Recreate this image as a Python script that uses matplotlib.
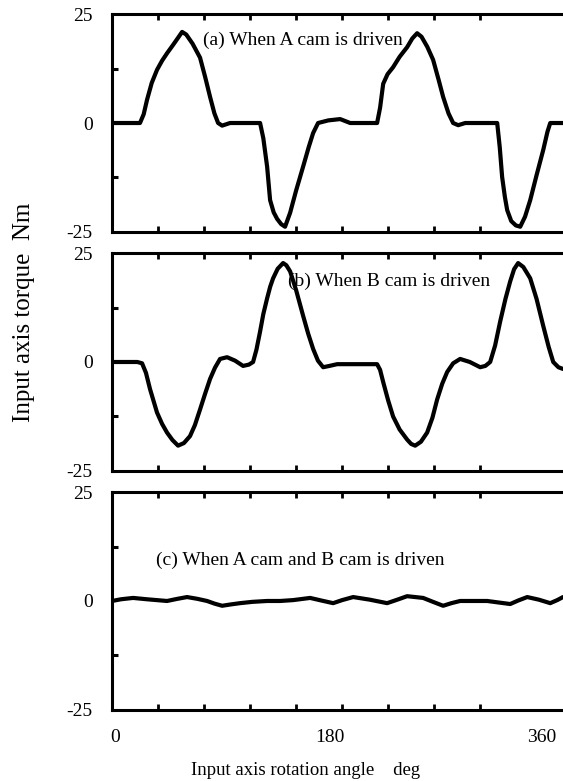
import numpy as np
import matplotlib.pyplot as plt
from matplotlib.ticker import MultipleLocator, FixedLocator
import matplotlib.transforms as mtransforms

plt.rcParams['font.family'] = ['Liberation Serif', 'DejaVu Serif']

# rotation angle (deg) / torque (Nm)
ang_a = [0, 24.3, 27.5, 30.4, 34.5, 39.1, 43.5, 47.8, 53, 57.5, 60.9, 64.5, 70, 76.5, 81, 85.2, 89, 92.2, 95.7,
         102.6, 128.7, 131.5, 134.8, 137.4, 140.5, 143.5, 147, 150.4, 154.8, 160, 166.1, 171, 174.8, 179.1,
         188, 198.3, 207, 230.4, 233, 235.7, 239.5, 244.3, 250, 256.5, 261, 265.2, 269, 274, 279.1, 284,
         287.8, 292.5, 296.5, 300.9, 307, 334.8, 337, 339.1, 341.5, 343.5, 347, 351, 354.8, 359, 363.5,
         369, 374.8, 378.5, 380.9, 386, 392]
trq_a = [0, 0, 2.0, 5.3, 9.2, 12.2, 14.3, 16, 17.9, 19.6, 20.9, 20.3, 18.2, 15, 10.5, 6, 2.2, 0, -0.6,
         0, 0, -3.5, -10, -17.7, -20.5, -22, -23.2, -23.8, -20.6, -15.5, -10, -5.5, -2.3, 0,
         0.6, 0.9, 0, 0, 3.5, 9, 11.2, 12.8, 15.2, 17.4, 19.4, 20.6, 19.8, 17.5, 14.5, 9.8,
         6, 2.2, 0, -0.5, 0, 0, -5.5, -12.4, -17, -20, -22.5, -23.5, -23.8, -21.5, -17.7,
         -12, -6.2, -2, 0, 0, 0]

ang_b = [0, 22, 26.1, 29.5, 33.0, 39.1, 43.5, 47.8, 52.5, 57.4, 62.5, 67.8, 72, 76.5, 81, 85.2, 89.5, 93.9,
         100, 107, 113.9, 119, 122.6, 125.5, 128.7, 131.5, 134.8, 137.5, 140, 144, 148.7, 151.5, 154.8,
         160, 166.1, 170.5, 174.8, 179, 183.5, 189, 195.7, 230.4, 233, 235.7, 240, 244.3, 250, 256.5, 260,
         263.5, 268.5, 273.9, 278.5, 282.6, 287, 291.3, 296.5, 302.6, 311, 320, 324.5, 328.7, 333, 337.4,
         342, 346.1, 349.5, 353, 357.5, 363.5, 369, 374.8, 379.5, 383.5, 388, 392]
trq_b = [0, 0, -0.3, -2.5, -6.2, -11.6, -14.2, -16.2, -17.9, -19.2, -18.6, -17, -14.5, -10.9, -7.2, -3.9, -1.3, 0.7,
         1.1, 0.3, -0.9, -0.6, 0, 2.8, 7, 11, 14.6, 17.3, 19.2, 21.4, 22.7, 22.2, 20.8,
         16.5, 10.6, 6.5, 3, 0.3, -1.2, -0.9, -0.5, -0.5, -1.8, -4.6, -8.8, -12.5, -15.5, -17.8, -18.8,
         -19.2, -18.3, -16.2, -12.8, -8.6, -5, -2.3, -0.3, 0.7, 0, -1.2, -0.9, 0, 3.8, 9.3,
         14.5, 18.5, 21.3, 22.7, 21.8, 19.2, 14.5, 8.3, 3.5, 0, -1.2, -1.6]

ang_c = [0, 8, 18.3, 30, 47.8, 57, 65.2, 74, 82.6, 89, 95.7, 103, 111.3, 122, 134.8, 146.1, 157.4, 172.2,
         182, 192.2, 200, 209.6, 224, 239.1, 248, 256.5, 270.4, 279, 287.8, 295, 302.6, 326.1, 346.1,
         353, 360.9, 371, 380.9, 387, 392]
trq_c = [0, 0.4, 0.7, 0.4, 0, 0.5, 0.9, 0.5, 0, -0.6, -1.1, -0.8, -0.5, -0.2, 0, 0, 0.2, 0.7,
         0.1, -0.5, 0.2, 0.9, 0.3, -0.5, 0.3, 1.1, 0.7, -0.2, -1.1, -0.5, 0, 0, -0.7,
         0.1, 0.9, 0.3, -0.5, 0.2, 0.9]

panels = [
    (ang_a, trq_a, "(a) When A cam is driven", (79, 19)),
    (ang_b, trq_b, "(b) When B cam is driven", (153, 18.5)),
    (ang_c, trq_c, "(c) When A cam and B cam is driven", (38, 9.4)),
]
bottoms = [0.703, 0.397, 0.091]

fig = plt.figure(figsize=(5.63, 7.81), dpi=100)

for k, (x, y, txt, pos) in enumerate(panels):
    ax = fig.add_axes([0.199, bottoms[k], 0.801, 0.279])
    ax.plot(x, y, color='black', lw=3.0, solid_joinstyle='round', solid_capstyle='round')
    ax.set_xlim(0, 392)
    ax.set_ylim(-25, 25)
    ax.spines['right'].set_visible(False)
    for s in ['left', 'top', 'bottom']:
        ax.spines[s].set_linewidth(2.2)

    ax.set_yticks([-25, 0, 25])
    ax.set_yticklabels(['-25', '0', '25'], fontsize=14)
    ax.yaxis.set_minor_locator(FixedLocator([-12.5, 12.5]))
    ax.tick_params(axis='y', which='major', length=0, pad=14)
    ax.tick_params(axis='y', which='minor', direction='in', length=4, width=2.2)

    ax.xaxis.set_minor_locator(MultipleLocator(40))
    ax.tick_params(axis='x', which='minor', direction='in', length=4, width=2,
                   top=True, bottom=True)
    ax.set_xticks([0, 180, 360])
    ax.tick_params(axis='x', which='major', length=0, pad=14, top=False)
    if k < 2:
        ax.set_xticklabels([])
    else:
        ax.set_xticklabels(['0', '180', '360'], fontsize=14)
        shifts = [3, 11, 16]
        for lab, dx in zip(ax.get_xticklabels(), shifts):
            lab.set_transform(lab.get_transform() +
                              mtransforms.ScaledTranslation(dx / 100, 0, fig.dpi_scale_trans))

    ax.text(pos[0], pos[1], txt, fontsize=14, ha='left', va='center')

fig.text(0.042, 0.60, "Input axis torque  Nm", rotation=90, fontsize=18, ha='center', va='center')
fig.text(0.542, 0.014, "Input axis rotation angle    deg", fontsize=13.5, ha='center', va='center')

fig.savefig('out.png', dpi=100)
